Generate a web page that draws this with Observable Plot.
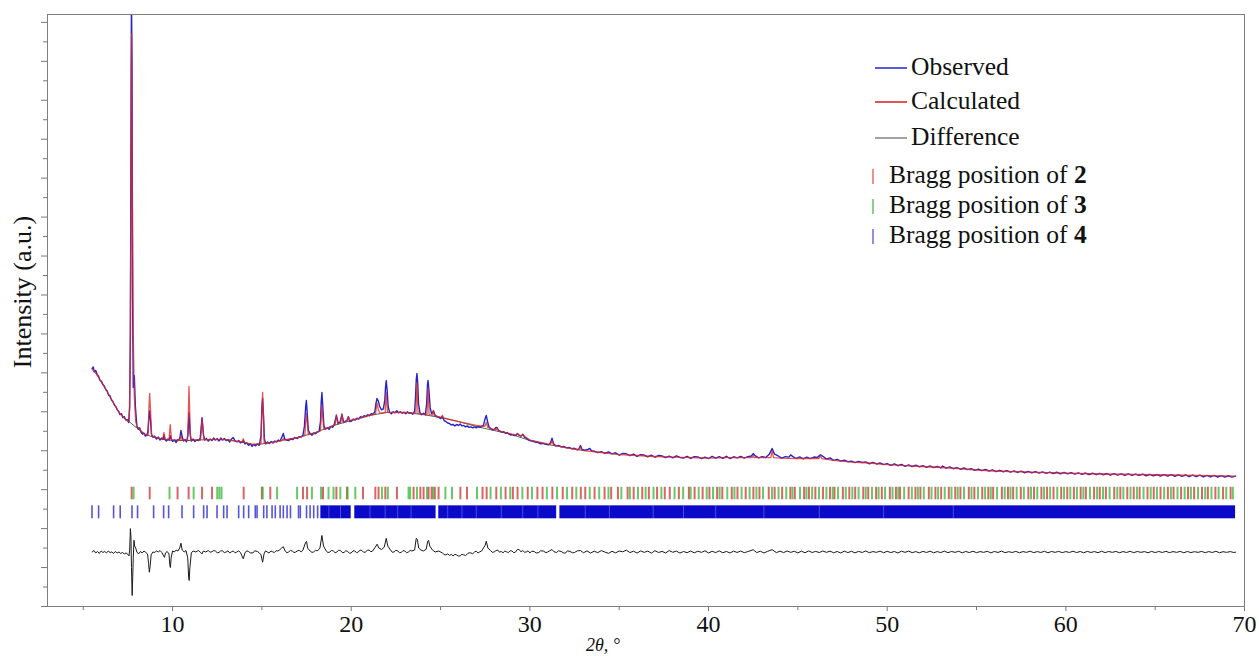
<!DOCTYPE html>
<html><head><meta charset="utf-8">
<script src="https://cdn.jsdelivr.net/npm/d3@7"></script>
<script src="https://cdn.jsdelivr.net/npm/@observablehq/plot@0.6"></script>
<style>
html,body{margin:0;padding:0;background:#fff;}
#wrap{position:relative;width:1259px;height:656px;font-family:"Liberation Serif","Times New Roman",serif;color:#111;}
#wrap svg{display:block;}
#overlay{position:absolute;left:0;top:0;pointer-events:none;}
</style></head>
<body><div id="wrap"></div>
<script>
// ---- data (2θ in degrees, intensity in a.u.) ----
const observed = [[5.50,244.4],[5.56,246],[5.62,241],[5.70,242.5],[5.78,238],[5.86,236.5],[5.94,232],[6.02,231.5],[6.10,228],[6.18,226.5],[6.26,223],[6.34,221.5],[6.42,217],[6.50,216.5],[6.58,212],[6.66,210.5],[6.74,207],[6.82,205.5],[6.90,202],[6.98,200.5],[7.06,197],[7.14,198],[7.22,194],[7.30,195],[7.38,191.5],[7.46,192],[7.54,189],[7.60,205],[7.64,280],[7.68,540],[7.70,625],[7.73,560],[7.76,320],[7.80,225],[7.86,237],[7.92,205],[8.00,186],[8.08,182],[8.16,183.5],[8.24,179],[8.32,177],[8.40,178],[8.48,175],[8.56,176],[8.62,180],[8.68,195],[8.72,201],[8.77,190],[8.82,177],[8.90,174],[9.00,175],[9.10,172],[9.20,174],[9.30,171],[9.40,173],[9.48,172],[9.52,176.5],[9.57,172],[9.65,170],[9.75,172],[9.82,171],[9.87,175.5],[9.93,172],[10.00,169.5],[10.10,171],[10.20,168.5],[10.30,171.5],[10.40,172],[10.47,180.8],[10.54,174],[10.62,170],[10.70,171.5],[10.78,169],[10.86,176],[10.92,199],[10.98,178],[11.05,170],[11.15,172],[11.25,169.5],[11.35,171],[11.45,170.5],[11.55,173],[11.65,194],[11.73,176],[11.80,171],[11.90,172.5],[12.00,170],[12.10,172],[12.20,170.5],[12.30,173],[12.40,171],[12.50,172.5],[12.60,170],[12.70,173],[12.80,171],[12.90,172.5],[13.00,170.5],[13.10,171.5],[13.20,169],[13.30,172],[13.40,173.5],[13.50,170],[13.60,169],[13.70,170.5],[13.80,168],[13.90,169],[13.96,170.5],[14.05,167],[14.15,168],[14.25,165.5],[14.35,167],[14.45,164.5],[14.55,166.5],[14.65,165],[14.75,167],[14.85,165.5],[14.95,175],[15.00,205],[15.04,213.6],[15.09,196],[15.14,172],[15.22,167],[15.32,169],[15.42,167.5],[15.52,169.5],[15.62,168],[15.72,170],[15.82,169],[15.92,171],[16.02,170],[16.12,174],[16.20,177.7],[16.28,172],[16.38,171],[16.50,170.5],[16.62,172],[16.74,171.5],[16.86,173.5],[16.98,172.5],[17.10,174.5],[17.20,174],[17.30,176],[17.38,185],[17.45,205],[17.49,211.6],[17.54,198],[17.60,181],[17.70,177.5],[17.80,176],[17.90,178],[18.00,177.5],[18.10,179],[18.20,180],[18.28,190],[18.32,210],[18.36,219.8],[18.41,205],[18.47,186],[18.56,182],[18.66,183.5],[18.76,182],[18.86,185],[18.96,184],[19.05,187],[19.17,196],[19.28,188],[19.38,189.5],[19.48,197],[19.58,189],[19.68,190.5],[19.76,191],[19.84,195],[19.92,190],[20.02,190.5],[20.12,192.5],[20.22,191.5],[20.32,193.5],[20.42,192.5],[20.52,195],[20.62,194],[20.72,196],[20.82,195],[20.92,197],[21.02,196],[21.12,198],[21.22,197.5],[21.32,200],[21.38,208],[21.44,213.6],[21.52,211],[21.60,205],[21.70,202],[21.80,203],[21.88,212],[21.92,225],[21.96,232],[22.01,222],[22.07,205],[22.15,199.5],[22.25,198],[22.35,200],[22.45,199],[22.55,201],[22.65,199],[22.75,200],[22.85,198.5],[22.95,199.5],[23.05,198],[23.15,200],[23.25,198.5],[23.35,199],[23.45,197.5],[23.55,201],[23.60,215],[23.64,233],[23.68,239.3],[23.72,230],[23.77,208],[23.85,199],[23.95,197],[24.05,198.5],[24.15,197],[24.22,208],[24.27,228],[24.30,232.1],[24.35,222],[24.42,204],[24.50,198],[24.60,201],[24.68,197],[24.78,195],[24.90,194.5],[25.00,193],[25.10,195],[25.20,191],[25.30,190],[25.40,188.5],[25.50,188],[25.60,186.5],[25.70,187],[25.80,185.5],[25.90,187],[26.00,186],[26.10,187.5],[26.20,185.5],[26.30,186],[26.40,184.5],[26.50,185.5],[26.60,184],[26.70,184.5],[26.80,183.5],[26.90,184.5],[27.00,183.5],[27.10,185],[27.20,184],[27.30,185],[27.40,186],[27.48,192],[27.56,196.2],[27.63,190],[27.72,184],[27.82,182.5],[27.92,181.5],[28.02,182],[28.10,184],[28.16,183.8],[28.24,181],[28.34,180],[28.44,179],[28.54,179.5],[28.64,178],[28.74,178.5],[28.84,177],[28.94,176],[29.04,176.5],[29.14,175.5],[29.24,176],[29.30,177.7],[29.40,176],[29.50,175],[29.60,177],[29.70,174],[29.80,173],[29.90,171.5],[30.00,170.5],[30.15,170],[30.30,169],[30.45,168.5],[30.60,167],[30.75,167.5],[30.90,166.5],[31.05,166],[31.15,168],[31.24,172.8],[31.33,167],[31.45,165],[31.60,165.5],[31.75,164],[31.90,164.5],[32.05,163],[32.20,163.5],[32.35,162],[32.50,162.5],[32.65,161],[32.75,162],[32.83,165.4],[32.92,161.5],[33.05,160.5],[33.20,161],[33.35,162.3],[33.45,160],[33.60,159.5],[33.80,158.0],[34.00,159.1],[34.20,157.2],[34.40,158.9],[34.60,156.8],[34.80,157.9],[35.00,155.4],[35.20,157.3],[35.40,156.9],[35.60,154.9],[35.80,156.6],[36.00,154.2],[36.20,155.9],[36.40,155.6],[36.60,153.8],[36.80,155.5],[37.00,153.3],[37.20,155.2],[37.40,154.6],[37.60,152.9],[37.80,154.5],[38.00,152.7],[38.20,154.8],[38.40,153.1],[38.60,152.4],[38.80,154.3],[39.00,152.1],[39.20,154.0],[39.40,153.6],[39.60,151.8],[39.80,153.5],[40.00,152.0],[40.20,154.2],[40.40,152.3],[40.60,153.9],[40.80,152.1],[41.00,154.3],[41.20,152.0],[41.40,153.8],[41.60,152.6],[41.80,154.1],[42.00,152.4],[42.20,153.9],[42.40,154.6],[42.50,157.1],[42.60,155.0],[42.80,152.6],[43.00,154.0],[43.20,153.1],[43.40,156.5],[43.56,162.3],[43.70,156.4],[43.90,154.6],[44.10,152.4],[44.30,154.0],[44.50,153.4],[44.60,155.8],[44.70,154.2],[44.90,152.0],[45.10,153.6],[45.30,151.6],[45.50,153.4],[45.70,151.9],[45.90,153.5],[46.10,153.2],[46.26,155.8],[46.40,154.3],[46.60,151.4],[46.80,152.6],[47.00,150.1],[47.20,151.2],[47.40,149.3],[47.60,150.4],[47.80,148.7],[48.00,149.3],[48.20,147.7],[48.40,149.0],[48.60,147.9],[48.80,148.6],[49.00,146.6],[49.20,148.1],[49.40,146.4],[49.60,147.4],[49.80,145.7],[50.00,146.8],[50.20,145.0],[50.40,146.6],[50.60,144.6],[50.80,145.9],[51.00,144.0],[51.20,145.5],[51.40,143.7],[51.60,145.1],[51.80,143.5],[52.00,144.6],[52.20,142.9],[52.40,144.4],[52.60,142.6],[52.80,143.9],[53.00,142.3],[53.10,144.3],[53.30,142.2],[53.50,143.4],[53.70,141.5],[53.90,142.7],[54.10,141.0],[54.30,142.3],[54.50,140.6],[54.70,141.7],[54.90,139.9],[55.10,141.2],[55.30,139.5],[55.50,140.8],[55.70,139.2],[55.90,140.3],[56.10,138.6],[56.30,139.9],[56.50,138.4],[56.70,139.6],[56.90,138.0],[57.10,139.3],[57.30,137.7],[57.50,139.0],[57.70,137.4],[57.90,138.8],[58.10,137.2],[58.30,138.5],[58.50,137.0],[58.70,138.3],[58.90,136.8],[59.10,138.1],[59.30,136.6],[59.50,137.9],[59.70,136.3],[59.90,137.8],[60.10,136.2],[60.30,137.5],[60.50,136.0],[60.70,137.3],[60.90,135.8],[61.10,137.1],[61.30,135.6],[61.50,136.9],[61.70,135.4],[61.90,136.8],[62.10,135.3],[62.30,136.6],[62.50,135.0],[62.70,136.5],[62.90,134.9],[63.10,136.3],[63.30,134.8],[63.50,136.2],[63.70,134.7],[63.90,136.0],[64.10,134.6],[64.30,135.9],[64.50,134.3],[64.70,135.8],[64.90,134.2],[65.10,135.6],[65.30,134.0],[65.50,135.5],[65.70,133.9],[65.90,135.4],[66.10,133.8],[66.30,135.3],[66.50,133.7],[66.70,135.1],[66.90,133.5],[67.10,135.0],[67.30,133.4],[67.50,134.9],[67.70,133.2],[67.90,134.7],[68.10,133.1],[68.30,134.6],[68.50,133.0],[68.70,134.4],[68.90,132.9],[69.10,134.3],[69.30,132.9],[69.50,133.9]];

const calculated = [[5.50,244.0],[5.75,238.5],[6.00,231.0],[6.25,223.5],[6.50,215.5],[6.75,207.5],[7.00,199.5],[7.25,194.5],[7.50,190.5],[7.58,190.0],[7.63,260],[7.67,420],[7.71,588.5],[7.75,430],[7.80,280],[7.86,215],[7.94,190],[8.00,185.0],[8.25,180.0],[8.50,176.5],[8.63,176.0],[8.68,205],[8.72,218.8],[8.77,200],[8.83,175.5],[9.00,174.0],[9.45,172.0],[9.52,178.7],[9.58,171.8],[9.80,171.5],[9.87,186.9],[9.94,171.3],[10.40,170.8],[10.47,175.6],[10.54,170.8],[10.84,170.8],[10.88,195],[10.92,226],[10.96,200],[11.01,171.0],[11.57,171.3],[11.61,182],[11.65,193.1],[11.70,183],[11.76,171.5],[12.50,171.5],[13.00,171.5],[13.90,168.8],[13.96,172.5],[14.02,168.4],[14.50,166.6],[14.95,167.2],[14.99,195],[15.04,219.8],[15.09,195],[15.13,167.6],[15.50,168.4],[16.13,170.5],[16.20,172.5],[16.27,171.0],[17.00,173.6],[17.40,175.5],[17.45,190],[17.49,198.2],[17.54,188],[17.60,176.5],[18.00,178.7],[18.28,180.5],[18.32,195],[18.36,206.5],[18.41,194],[18.47,182.0],[19.10,186.5],[19.17,197.2],[19.24,187.5],[19.41,188.6],[19.48,198.2],[19.55,189.2],[19.77,190.6],[19.84,195.1],[19.91,191.2],[20.50,193.5],[21.00,196.2],[21.36,197.6],[21.44,209.5],[21.52,202],[21.62,198.5],[21.90,199.2],[21.96,219.8],[22.03,199.4],[23.00,199.3],[23.62,198.4],[23.68,230.0],[23.74,198.2],[24.24,197.4],[24.30,225.0],[24.36,197.1],[24.55,196.5],[24.60,201.3],[24.65,196.3],[25.03,194.2],[25.10,196.5],[25.17,193.8],[26.00,190.0],[27.00,186.0],[27.48,185.0],[27.56,189.0],[27.64,184.2],[28.08,181.2],[28.16,182.8],[28.24,180.5],[29.00,177.0],[29.24,176.4],[29.30,177.5],[29.38,175.8],[29.55,175.4],[29.62,176.6],[29.70,174.8],[30.00,171.0],[31.00,167.0],[31.16,166.6],[31.24,170.5],[31.32,166.0],[32.00,163.3],[32.75,161.0],[32.83,164.3],[32.91,160.6],[33.00,160.2],[34.00,158.2],[35.00,156.1],[36.00,155.1],[37.00,154.1],[38.00,153.5],[39.00,153.0],[40.00,152.5],[41.00,153.0],[42.00,153.0],[42.45,153.0],[42.50,155.0],[42.55,153.0],[43.00,153.0],[43.48,153.0],[43.56,160.2],[43.64,153.0],[44.00,152.5],[45.00,152.0],[46.00,152.0],[46.18,152.0],[46.26,155.0],[46.34,152.0],[47.00,150.0],[48.00,148.4],[49.00,147.4],[50.00,145.8],[51.00,144.8],[52.00,143.8],[53.00,142.8],[54.00,141.7],[55.00,140.2],[56.00,139.2],[57.00,138.6],[58.00,138.1],[59.00,137.6],[60.00,137.1],[62.00,136.1],[64.00,135.6],[66.00,135.1],[68.00,134.5],[69.50,134.0]];

const background = [[7.45,191.6],[7.90,184.9],[8.25,179.7],[8.50,176.6],[9.00,173.6],[9.50,171.5],[10.00,170.5],[11.00,170.5],[12.00,171.5],[13.00,171.5],[14.00,168.4],[14.50,166.4],[15.00,167.0],[15.50,168.4],[16.00,170.3],[17.00,173.6],[18.00,178.7],[19.00,185.9],[20.00,191.0],[21.00,196.2],[22.00,199.3],[23.00,199.3],[24.00,197.2],[25.00,194.1],[26.00,190.0],[27.00,184.9],[28.00,180.8],[29.00,176.6],[30.00,170.5],[31.00,166.4],[32.00,163.3],[33.00,160.2]];

const difference = [[5.50,56],[5.60,57.5],[5.70,55],[5.80,56.5],[5.90,54.5],[6.00,57],[6.10,55.5],[6.20,56.5],[6.30,55],[6.40,57],[6.50,55.5],[6.60,56],[6.70,54.5],[6.80,56.5],[6.90,55],[7.00,56],[7.10,54.5],[7.20,55.5],[7.30,54],[7.40,55],[7.50,53.5],[7.56,52],[7.60,58],[7.64,80],[7.67,72],[7.70,40],[7.74,11.3],[7.77,30],[7.80,50],[7.84,68],[7.88,62],[7.94,60],[8.00,56],[8.10,54],[8.20,56.5],[8.30,55],[8.40,57],[8.50,55.5],[8.60,54],[8.66,44],[8.70,35.2],[8.75,42],[8.80,53],[8.90,56],[9.00,55.5],[9.10,57],[9.20,56],[9.30,57.5],[9.40,55.5],[9.50,52],[9.55,50.5],[9.60,55],[9.70,56.5],[9.80,54],[9.85,42],[9.88,40],[9.92,50],[10.00,57],[10.10,56],[10.20,58],[10.30,57],[10.40,60],[10.47,65],[10.54,58],[10.65,56],[10.75,57.5],[10.85,50],[10.90,30],[10.93,26.7],[10.97,40],[11.05,55],[11.15,57],[11.30,56],[11.45,57.5],[11.60,55],[11.65,54],[11.72,57],[11.85,56],[12.00,57.5],[12.10,55.8],[12.20,56.2],[12.30,57.4],[12.40,57],[12.50,55.2],[12.60,55.5],[12.70,57.3],[12.80,57],[12.90,55.4],[13.00,56],[13.10,57.2],[13.20,55],[13.30,56.3],[13.40,57],[13.50,55.1],[13.60,56],[13.70,57.1],[13.80,55.5],[13.96,49],[14.05,55],[14.15,57.2],[14.25,56.5],[14.35,55.1],[14.50,55],[14.60,57.3],[14.75,56.5],[14.85,55.2],[14.95,53],[15.04,45.5],[15.12,54],[15.20,57.1],[15.30,56],[15.40,55],[15.50,57],[15.60,56.2],[15.70,55.5],[15.80,57.4],[15.90,57],[16.00,58.2],[16.10,60],[16.20,61.5],[16.30,57],[16.40,55.3],[16.50,56],[16.60,57.6],[16.70,57],[16.80,55.4],[16.90,56],[17.00,57.3],[17.10,57.5],[17.20,56.1],[17.30,58],[17.45,66],[17.50,67],[17.56,60],[17.70,57],[17.80,55.6],[17.90,56],[18.00,57.8],[18.10,57],[18.25,60],[18.36,73],[18.45,62],[18.60,57],[18.70,55.4],[18.80,56],[18.90,57.6],[19.00,57],[19.10,55.2],[19.20,56],[19.30,57.8],[19.40,57.5],[19.50,55.4],[19.60,55.5],[19.70,57.3],[19.80,56.5],[19.90,54.8],[20.00,55],[20.10,57.2],[20.20,57],[20.30,55.3],[20.40,56],[20.50,58],[20.60,57.5],[20.70,55.6],[20.80,56],[20.90,57.7],[21.00,58],[21.10,56.2],[21.20,57],[21.35,61],[21.45,64],[21.55,60],[21.70,58.5],[21.85,61],[21.96,70],[22.05,62],[22.20,58],[22.30,55.7],[22.40,56],[22.50,57.8],[22.60,57],[22.70,55.3],[22.80,55.5],[22.90,57.4],[23.00,57],[23.10,55.2],[23.20,56],[23.30,57.6],[23.40,57],[23.55,58],[23.64,70],[23.70,69],[23.78,60],[23.90,58],[24.05,57],[24.20,59],[24.28,67],[24.33,68],[24.40,62],[24.55,58],[24.70,56],[24.90,57],[25.10,55],[25.20,53.4],[25.30,53],[25.40,54.1],[25.50,52.5],[25.60,53.6],[25.70,52],[25.80,53.5],[25.90,53],[26.00,51.8],[26.10,52],[26.20,53.7],[26.30,53],[26.40,52.4],[26.50,54],[26.60,55.2],[26.70,55],[26.80,54.2],[26.90,56],[27.00,56.8],[27.10,55],[27.20,56.2],[27.30,57],[27.50,63],[27.56,67],[27.65,60],[27.80,57.5],[27.90,55.6],[28.00,56],[28.10,57.4],[28.20,58],[28.30,55.8],[28.40,56.5],[28.50,55.2],[28.60,57],[28.70,56.1],[28.80,55.5],[28.90,57.3],[29.00,57],[29.10,55.2],[29.20,56],[29.30,58.6],[29.40,58.5],[29.50,56.2],[29.60,57.5],[29.70,55.8],[29.80,56],[29.90,57.2],[30.00,55],[30.10,56.8],[30.25,56.5],[30.35,54.9],[30.50,55.5],[30.60,57.2],[30.75,57],[30.90,55.3],[31.00,56],[31.10,57.1],[31.24,58.5],[31.35,56.2],[31.50,55.5],[31.60,57.2],[31.75,56.5],[31.90,54.9],[32.00,55],[32.10,57.2],[32.25,56.5],[32.40,55.1],[32.50,55.5],[32.65,57.1],[32.83,57.5],[33.00,55.2],[33.20,57.1],[33.40,54.9],[33.60,56.8],[33.80,55.3],[34.00,57.4],[34.20,55.9],[34.40,54.6],[34.60,56.7],[34.80,55.1],[35.00,57.0],[35.20,56.2],[35.40,57.9],[35.60,55.4],[35.80,56.8],[36.00,54.9],[36.20,57.1],[36.40,55.6],[36.60,56.9],[36.80,54.8],[37.00,57.3],[37.20,55.5],[37.40,56.6],[37.60,55.0],[37.80,57.4],[38.00,55.7],[38.20,56.9],[38.40,54.9],[38.60,56.5],[38.80,55.3],[39.00,57.0],[39.20,55.1],[39.40,56.8],[39.60,55.6],[39.80,57.2],[40.00,55.0],[40.20,56.7],[40.40,55.4],[40.60,57.1],[40.80,55.2],[41.00,56.6],[41.20,54.9],[41.40,56.9],[41.60,55.5],[41.80,57.0],[42.00,55.3],[42.20,56.4],[42.50,58.3],[42.70,55.4],[42.90,56.8],[43.10,55.0],[43.30,56.6],[43.56,58.4],[43.80,55.3],[44.00,56.9],[44.20,55.4],[44.40,57.0],[44.60,55.6],[44.80,56.7],[45.00,55.1],[45.20,56.8],[45.40,55.2],[45.60,57.1],[45.80,55.5],[46.00,56.6],[46.20,55.4],[46.40,57.0],[46.60,55.6],[46.80,56.9],[47.00,55.2],[47.20,56.5],[47.40,55.0],[47.60,56.8],[47.80,55.4],[48.00,56.7],[48.20,55.1],[48.40,56.6],[48.60,55.5],[48.80,57.0],[49.00,55.3],[49.20,56.4],[49.40,55.6],[49.60,56.9],[49.80,55.2],[50.00,56.7],[50.20,55.4],[50.40,56.5],[50.60,55.0],[50.80,56.8],[51.00,55.6],[51.20,56.9],[51.40,55.3],[51.60,56.4],[51.80,55.1],[52.00,56.6],[52.20,55.5],[52.40,56.8],[52.60,55.2],[52.80,56.4],[53.00,55.4],[53.20,56.9],[53.40,55.3],[53.60,56.5],[53.80,55.6],[54.00,56.7],[54.20,55.2],[54.40,56.5],[54.60,55.4],[54.80,56.8],[55.00,55.3],[55.20,56.4],[55.40,55.6],[55.60,56.7],[55.80,55.1],[56.00,56.5],[56.20,55.5],[56.40,56.9],[56.60,55.3],[56.80,56.3],[57.00,55.5],[57.20,56.6],[57.40,55.2],[57.60,56.4],[57.80,55.6],[58.00,56.8],[58.20,55.3],[58.40,56.4],[58.60,55.5],[58.80,56.7],[59.00,55.2],[59.20,56.5],[59.40,55.6],[59.60,56.6],[59.80,55.3],[60.00,56.4],[60.20,55.5],[60.40,56.8],[60.60,55.4],[60.80,56.5],[61.00,55.2],[61.20,56.6],[61.40,55.5],[61.60,56.4],[61.80,55.3],[62.00,56.7],[62.20,55.4],[62.40,56.5],[62.60,55.6],[62.80,56.6],[63.00,55.2],[63.20,56.4],[63.40,55.5],[63.60,56.7],[63.80,55.3],[64.00,56.5],[64.20,55.6],[64.40,56.4],[64.60,55.2],[64.80,56.6],[65.00,55.4],[65.20,56.5],[65.40,55.5],[65.60,56.7],[65.80,55.3],[66.00,56.4],[66.20,55.6],[66.40,56.6],[66.60,55.2],[66.80,56.5],[67.00,55.4],[67.20,56.3],[67.40,55.6],[67.60,56.6],[67.80,55.3],[68.00,56.4],[68.20,55.5],[68.40,56.7],[68.60,55.2],[68.80,56.3],[69.00,55.6],[69.20,56.4],[69.40,55.5],[69.50,55.8]];

// Bragg reflection positions (2θ, °)
const bragg2 = [7.71,8.72,10.28,10.90,11.65,12.21,13.98,15.00,15.47,17.30,17.53,18.42,19.17,19.76,20.66,21.35,21.53,21.91,22.56,23.49,23.87,24.05,24.33,24.50,24.68,24.89,26.11,26.48,27.35,27.58,28.12,28.64,29.05,29.31,29.88,30.42,30.71,31.26,31.84,32.37,32.85,33.10,33.62,34.18,34.55,34.93,35.47,35.81,36.29,36.66,37.12,37.55,37.83,38.34,38.90,39.22,39.67,40.05,40.48,40.77,41.30,41.62,42.08,42.51,42.85,43.37,43.70,44.12,44.58,44.83,45.35,45.62,45.98,46.41,46.80,47.05,47.52,47.88,48.21,48.66,48.94,49.38,49.70,50.15,50.49,50.72,51.20,51.58,51.86,52.33,52.70,53.02,53.45,53.81,54.10,54.57,54.88,55.32,55.66,55.93,56.42,56.76,57.05,57.48,57.90,58.22,58.63,58.95,59.31,59.74,60.08,60.45,60.83,61.12,61.58,61.90,62.24,62.71,63.05,63.44,63.80,64.13,64.57,64.92,65.30,65.71,66.03,66.45,66.84,67.18,67.62,67.95,68.37,68.80,69.22];
const bragg3 = [7.82,9.83,11.18,12.50,12.62,12.74,15.05,15.85,16.97,17.80,18.31,18.73,19.01,19.39,19.80,20.23,21.72,22.05,23.21,23.30,23.68,24.24,24.58,25.27,25.64,27.04,27.80,28.38,28.90,29.58,30.12,30.95,31.52,32.08,32.60,33.35,33.88,34.40,35.12,35.60,36.05,36.48,36.92,37.36,38.10,38.58,39.00,39.45,39.90,40.25,40.62,41.05,41.45,41.85,42.30,42.68,43.05,43.55,43.92,44.35,44.70,45.12,45.48,45.80,46.18,46.60,46.95,47.25,47.68,48.05,48.40,48.80,49.15,49.52,49.88,50.30,50.62,50.95,51.38,51.72,52.05,52.48,52.85,53.22,53.60,53.95,54.30,54.72,55.08,55.48,55.80,56.15,56.58,56.90,57.25,57.65,58.05,58.40,58.78,59.12,59.52,59.90,60.25,60.62,60.98,61.35,61.75,62.08,62.45,62.88,63.22,63.62,63.98,64.35,64.75,65.10,65.50,65.88,66.25,66.65,67.00,67.40,67.80,68.15,68.55,68.98,69.35];
const bragg4 = [5.49,5.86,6.70,7.07,7.73,8.04,8.94,9.50,9.78,10.53,11.18,11.74,11.93,12.49,12.86,13.05,13.70,13.98,14.26,14.63,14.73,15.10,15.28,15.57,15.75,16.02,16.20,16.41,16.60,17.05,17.15,17.50,17.70,17.90,18.12];
// ranges where the reflections of 4 overlap into a continuous band
const bragg4Bands = [[18.30,20.00],[20.20,24.75],[24.90,31.50],[31.68,69.50]];
const bragg4Gaps = [18.75,19.40,21.05,21.90,22.60,23.35,25.40,26.20,27.00,28.40,29.60,30.45,33.10,34.45,36.90,38.60,40.40,43.10,46.20,49.80,53.70];

const xMajor = [10,20,30,40,50,60,70];
const xMinor = [5,15,25,35,45,55,65];
const yMajor = d3.range(0, 601, 40);
const yMinor = d3.range(20, 601, 40);

const legendItems = [
  {label:"Observed", color:"#3333cc", kind:"line"},
  {label:"Calculated", color:"#dd2b2b", kind:"line"},
  {label:"Difference", color:"#8a8a8a", kind:"line"},
  {label:"Bragg position of ", num:"2", color:"#e05555", kind:"tick"},
  {label:"Bragg position of ", num:"3", color:"#44bb44", kind:"tick"},
  {label:"Bragg position of ", num:"4", color:"#5555cc", kind:"tick"}
];

const row1 = {y1:109.6, y2:122.5};
const row2 = {y1:90.1, y2:103.4};

const chart = Plot.plot({
  width:1259, height:656,
  marginLeft:47, marginRight:15, marginTop:14, marginBottom:50,
  x:{domain:[3,70]},
  y:{domain:[0,608.1]},
  style:{fontFamily:'"Liberation Serif","Times New Roman",serif', background:"#fff", color:"#111"},
  marks:[
    Plot.axisX({ticks:xMajor, tickSize:5, tickPadding:3, fontSize:24, label:null, stroke:"#777", fill:"#111"}),
    Plot.axisX({ticks:xMinor, tickSize:4, tickFormat:()=>"", label:null, stroke:"#777"}),
    Plot.axisY({ticks:yMajor, tickSize:6, tickFormat:()=>"", label:null, stroke:"#777"}),
    Plot.axisY({ticks:yMinor, tickSize:4, tickFormat:()=>"", label:null, stroke:"#777"}),
    // Bragg rows
    Plot.ruleX(bragg2, {x:d=>d, ...row1, stroke:"#cc3333", strokeWidth:2.0, strokeOpacity:0.75}),
    Plot.ruleX(bragg3, {x:d=>d, ...row1, stroke:"#33b833", strokeWidth:2.0, strokeOpacity:0.75}),
    Plot.rect(bragg4Bands, {x1:d=>d[0], x2:d=>d[1], ...row2, fill:"#0a0ac8"}),
    Plot.ruleX(bragg4Gaps, {x:d=>d, ...row2, stroke:"#fff", strokeWidth:0.8, strokeOpacity:0.35}),
    Plot.ruleX(bragg4, {x:d=>d, ...row2, stroke:"#2a2acc", strokeWidth:1.6, strokeOpacity:0.8}),
    // profiles
    Plot.line(background, {x:d=>d[0], y:d=>d[1], stroke:"#2f5f2f", strokeWidth:0.9}),
    Plot.line(observed, {x:d=>d[0], y:d=>d[1], stroke:"#2424cc", strokeWidth:1.4, clip:true}),
    Plot.line(calculated, {x:d=>d[0], y:d=>d[1], stroke:"#e02828", strokeWidth:1.3, strokeOpacity:0.8, clip:true}),
    Plot.line(difference, {x:d=>d[0], y:d=>d[1], stroke:"#1a1a1a", strokeWidth:1}),
    Plot.frame({stroke:"#7f7f7f"})
  ]
});
const wrap = document.getElementById("wrap");
wrap.appendChild(chart);

// overlay: axis titles and legend
const ov = d3.select(wrap).append("svg").attr("id","overlay")
  .attr("width",1259).attr("height",656)
  .style("font-family",'"Liberation Serif","Times New Roman",serif');

ov.append("text").attr("transform","translate(31,292) rotate(-90)")
  .attr("text-anchor","middle").attr("font-size",26).attr("fill","#111")
  .text("Intensity (a.u.)");
ov.append("text").attr("x",603).attr("y",651).attr("text-anchor","middle")
  .attr("font-size",18).attr("font-style","italic").attr("fill","#111").text("2θ, °");

const baselines = [75,109,145,183,213,243];
legendItems.forEach((d,i)=>{
  const b = baselines[i];
  if (d.kind === "line") {
    ov.append("line").attr("x1",875).attr("x2",907).attr("y1",b-7).attr("y2",b-7)
      .attr("stroke",d.color).attr("stroke-width",1.6);
    ov.append("text").attr("x",911).attr("y",b).attr("font-size",25.5).attr("fill","#111").text(d.label);
  } else {
    ov.append("line").attr("x1",873).attr("x2",873).attr("y1",b-14).attr("y2",b+1)
      .attr("stroke",d.color).attr("stroke-width",1.3);
    const t = ov.append("text").attr("x",889).attr("y",b).attr("font-size",25.5).attr("fill","#111");
    t.append("tspan").text(d.label);
    t.append("tspan").attr("font-weight","bold").text(d.num);
  }
});
</script>
</body></html>
